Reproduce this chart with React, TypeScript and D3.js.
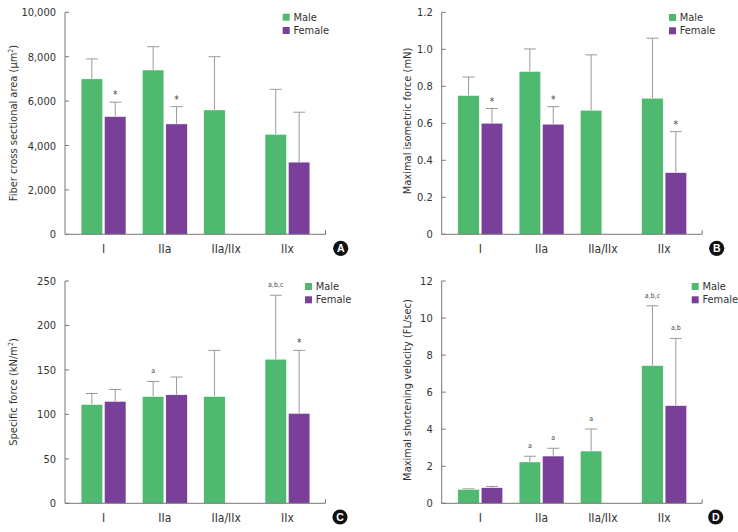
import React from "react";
import * as d3 from "d3";

const categories = ["I", "IIa", "IIa/IIx", "IIx"];

const csaMale = [7000, 7400, 5600, 4500];
const csaMaleSD = [900, 1050, 2400, 2030];
const csaFemale = [5300, 4970, null, 3250];
const csaFemaleSD = [650, 780, null, 2250];
const csaMaleNote = ["", "", "", ""];
const csaFemaleNote = ["*", "*", "", ""];
const csaTicks = [0, 2000, 4000, 6000, 8000, 10000];

const forceMale = [0.75, 0.88, 0.67, 0.735];
const forceMaleSD = [0.1, 0.122, 0.3, 0.325];
const forceFemale = [0.6, 0.595, null, 0.333];
const forceFemaleSD = [0.08, 0.095, null, 0.222];
const forceMaleNote = ["", "", "", ""];
const forceFemaleNote = ["*", "*", "", "*"];
const forceTicks = [0, 0.2, 0.4, 0.6, 0.8, 1.0, 1.2];

const specMale = [111, 120, 120, 162];
const specMaleSD = [12.5, 17, 52, 72];
const specFemale = [114.5, 122, null, 101];
const specFemaleSD = [13.5, 20, null, 71];
const specMaleNote = ["", "a", "", "a,b,c"];
const specFemaleNote = ["", "", "", "*"];
const specTicks = [0, 50, 100, 150, 200, 250];

const vMale = [0.75, 2.23, 2.82, 7.43];
const vMaleSD = [0.03, 0.31, 1.19, 3.23];
const vFemale = [0.84, 2.55, null, 5.27];
const vFemaleSD = [0.07, 0.42, null, 3.63];
const vMaleNote = ["", "a", "a", "a,b,c"];
const vFemaleNote = ["", "a", "", "a,b"];
const vTicks = [0, 2, 4, 6, 8, 10, 12];

const legendLabels = ["Male", "Female"];
const GREEN = "#4fba6f";
const PURPLE = "#7a3f98";
const FONT = "'Liberation Sans Narrow', 'DejaVu Sans Condensed', 'Roboto', sans-serif";

type PanelProps = {
  axisX: number;
  top: number;
  bottom: number;
  male: (number | null)[];
  maleSD: (number | null)[];
  female: (number | null)[];
  femaleSD: (number | null)[];
  maleNote: string[];
  femaleNote: string[];
  ticks: number[];
  fmt: (v: number) => string;
  title: React.ReactNode;
  titleY: number;
  titleX: number;
  letter: string;
  letterX: number;
  letterY: number;
  legendX: number;
  legendY: number;
};

function Panel(p: PanelProps) {
  const ymax = p.ticks[p.ticks.length - 1];
  const y = d3.scaleLinear().domain([0, ymax]).range([p.bottom, p.top]);
  const x = d3
    .scaleBand<string>()
    .domain(categories)
    .range([p.axisX + 7.9, p.axisX + 7.9 + 245.2])
    .padding(0);
  const bw = 21.4;
  const axisEnd = p.axisX + 260.5;
  const series = [
    { vals: p.male, sd: p.maleSD, note: p.maleNote, color: GREEN, off: -bw - 1 },
    { vals: p.female, sd: p.femaleSD, note: p.femaleNote, color: PURPLE, off: 1 },
  ];
  return (
    <g>
      {series.map((s, si) =>
        categories.map((c, i) => {
          const v = s.vals[i];
          if (v == null) return null;
          const cx = (x(c) as number) + x.bandwidth() / 2;
          const bx = cx + s.off;
          const mid = bx + bw / 2;
          const top = y(v);
          const et = y(v + (s.sd[i] as number));
          const note = s.note[i];
          const isStar = note === "*";
          return (
            <g key={si + "-" + i}>
              <line x1={mid} x2={mid} y1={top} y2={et} stroke="#9a9a9a" strokeWidth={1} />
              <line x1={mid - 6} x2={mid + 6} y1={et} y2={et} stroke="#9a9a9a" strokeWidth={1} />
              <rect x={bx} y={top} width={bw} height={p.bottom - top} fill={s.color} stroke="#ffffff" strokeWidth={0.4} />
              {note && (
                <text
                  x={mid}
                  y={isStar ? et - 4 : et - 8}
                  textAnchor="middle"
                  fontSize={isStar ? 10 : 7}
                  fill="#444"
                  fontFamily={FONT}
                >
                  {note}
                </text>
              )}
            </g>
          );
        })
      )}
      {/* axes */}
      <line x1={p.axisX} x2={p.axisX} y1={p.top} y2={p.bottom} stroke="#777" strokeWidth={1} />
      <line x1={p.axisX} x2={axisEnd} y1={p.bottom} y2={p.bottom} stroke="#777" strokeWidth={1} />
      <line x1={axisEnd} x2={axisEnd} y1={p.bottom} y2={p.bottom - 4} stroke="#777" strokeWidth={1} />
      {p.ticks.map((t) => (
        <g key={t}>
          <line x1={p.axisX} x2={p.axisX + 4} y1={y(t)} y2={y(t)} stroke="#777" strokeWidth={1} />
          <text
            x={p.axisX - 9}
            y={y(t) + 4}
            textAnchor="end"
            fontSize={11}
            fill="#333"
            fontFamily={FONT}
          >
            {p.fmt(t)}
          </text>
        </g>
      ))}
      {categories.map((c) => (
        <text
          key={c}
          x={(x(c) as number) + x.bandwidth() / 2}
          y={p.bottom + 19}
          textAnchor="middle"
          fontSize={12}
          fill="#333"
          fontFamily={FONT}
        >
          {c}
        </text>
      ))}
      <text
        transform={`translate(${p.titleX},${p.titleY}) rotate(-90)`}
        textAnchor="middle"
        fontSize={11}
        fill="#333"
        fontFamily={FONT}
      >
        {p.title}
      </text>
      {legendLabels.map((l, i) => (
        <g key={l}>
          <rect x={p.legendX} y={p.legendY + i * 13.3} width={7} height={7} fill={i === 0 ? GREEN : PURPLE} />
          <text x={p.legendX + 10.7} y={p.legendY + i * 13.3 + 7} fontSize={11} fill="#333" fontFamily={FONT}>
            {l}
          </text>
        </g>
      ))}
      <circle cx={p.letterX} cy={p.letterY} r={7.6} fill="#111" />
      <text
        x={p.letterX}
        y={p.letterY + 3.8}
        textAnchor="middle"
        fontSize={10.5}
        fontWeight="bold"
        fill="#fff"
        fontFamily="'Liberation Sans', Arial, sans-serif"
      >
        {p.letter}
      </text>
    </g>
  );
}

const sup = (base: string, after: string) => (
  <>
    {base}
    <tspan fontSize={7} dy={-4}>2</tspan>
    <tspan dy={4}>{after}</tspan>
  </>
);

export default function App() {
  return (
    <svg
      width={738}
      height={532}
      style={{ position: "absolute", left: 0, top: 0, background: "#fff" }}
    >
      <Panel
        axisX={65}
        top={12.3}
        bottom={234.3}
        male={csaMale}
        maleSD={csaMaleSD}
        female={csaFemale}
        femaleSD={csaFemaleSD}
        maleNote={csaMaleNote}
        femaleNote={csaFemaleNote}
        ticks={csaTicks}
        fmt={d3.format(",")}
        title={sup("Fiber cross sectional area (\u03bcm", ")")}
        titleX={17}
        titleY={123}
        letter="A"
        letterX={340.7}
        letterY={248.3}
        legendX={282.7}
        legendY={13.7}
      />
      <Panel
        axisX={441.7}
        top={12.3}
        bottom={234.3}
        male={forceMale}
        maleSD={forceMaleSD}
        female={forceFemale}
        femaleSD={forceFemaleSD}
        maleNote={forceMaleNote}
        femaleNote={forceFemaleNote}
        ticks={forceTicks}
        fmt={(v) => (v === 0 ? "0" : d3.format(".1f")(v))}
        title="Maximal isometric force (mN)"
        titleX={411}
        titleY={121}
        letter="B"
        letterX={716.7}
        letterY={248.3}
        legendX={669}
        legendY={14}
      />
      <Panel
        axisX={65}
        top={281}
        bottom={503.3}
        male={specMale}
        maleSD={specMaleSD}
        female={specFemale}
        femaleSD={specFemaleSD}
        maleNote={specMaleNote}
        femaleNote={specFemaleNote}
        ticks={specTicks}
        fmt={(v) => String(v)}
        title={sup("Specific force (kN/m", ")")}
        titleX={17}
        titleY={392}
        letter="C"
        letterX={340}
        letterY={517}
        legendX={305}
        legendY={283}
      />
      <Panel
        axisX={441.7}
        top={281}
        bottom={503.3}
        male={vMale}
        maleSD={vMaleSD}
        female={vFemale}
        femaleSD={vFemaleSD}
        maleNote={vMaleNote}
        femaleNote={vFemaleNote}
        ticks={vTicks}
        fmt={(v) => String(v)}
        title="Maximal shortening velocity (FL/sec)"
        titleX={411}
        titleY={390}
        letter="D"
        letterX={715.7}
        letterY={517}
        legendX={691.7}
        legendY={283}
      />
    </svg>
  );
}
